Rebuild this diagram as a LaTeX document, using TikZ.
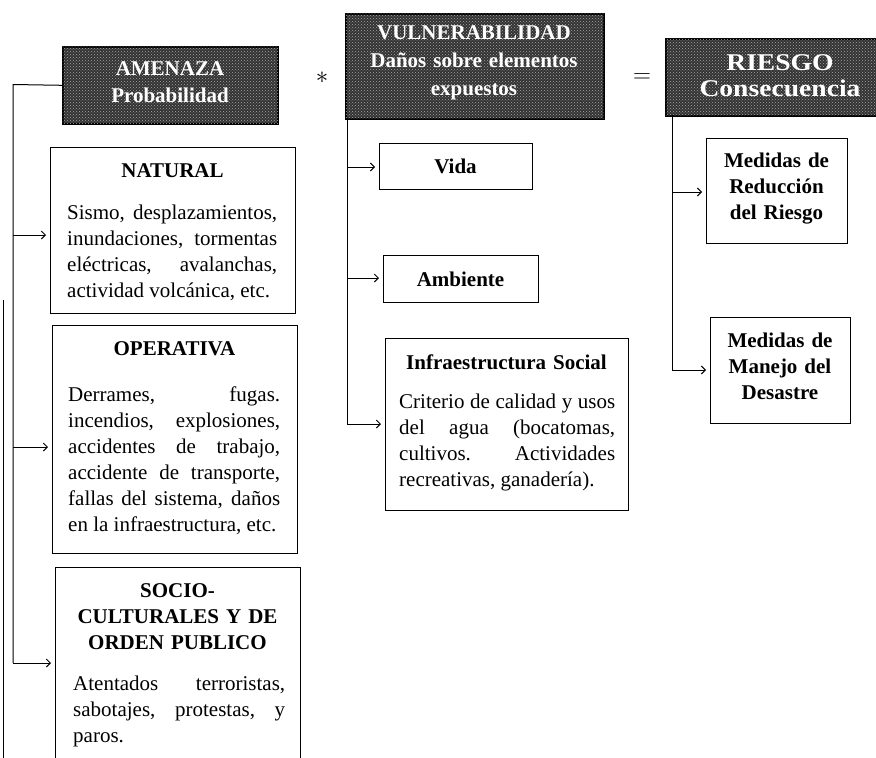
\documentclass[tikz,border=0pt]{standalone}
\usepackage{fontspec}
\setmainfont{Liberation Serif}
\newfontfamily\riesgofont{Liberation Serif}[FakeStretch=1.15]
\usetikzlibrary{arrows.meta,patterns}
\tolerance=10000
\hbadness=10000
\hyphenpenalty=10000
\exhyphenpenalty=10000
\begin{document}
\begin{tikzpicture}[x=1pt,y=-1pt,
  hdr/.style={draw=black, line width=1.6pt, fill=black!80,
    postaction={pattern=crosshatch dots, pattern color=gray!70},
    anchor=north west, inner sep=0pt},
  box/.style={draw=black, line width=1.4pt, anchor=north west, inner sep=0pt},
  htxt/.style={text=white, font=\fontsize{21}{27}\selectfont\bfseries, align=center, inner sep=0pt, anchor=base},
  ttl/.style={font=\fontsize{21}{26}\selectfont\bfseries, align=center, inner sep=0pt, anchor=base},
  body/.style={font=\fontsize{21}{26}\selectfont, align=justify, inner sep=0pt, anchor=base west},
  conn/.style={line width=1pt},
  arr/.style={line width=1pt, shorten >=4pt, -{Straight Barb[length=4pt,width=8pt]}},
]
\useasboundingbox (0,0) rectangle (876,758);

% header boxes
\node[hdr, minimum width=215, minimum height=77] (amenaza) at (62,46) {};
\node[htxt, text width=205] (amenazatxt) at (170,75) {AMENAZA\\Probabilidad};
\node[hdr, minimum width=258, minimum height=105] (vuln) at (345,13) {};
\node[htxt, text width=250, font=\fontsize{21}{28}\selectfont\bfseries] (vulntxt) at (474,39) {VULNERABILIDAD\\Daños sobre elementos\\expuestos};
\node[hdr, minimum width=235, minimum height=77] (riesgo) at (665,38) {};
\node[htxt, text width=205, font=\riesgofont\fontsize{24}{26}\selectfont\bfseries] (riesgotxt) at (780,70) {RIESGO\\Consecuencia};

% operators
\node[font=\fontsize{30}{30}\selectfont] (times) at (322,78) {$\ast$};
\node[font=\fontsize{26}{26}\selectfont] (equals) at (642,78) {$=$};

% left column
\node[box, minimum width=245, minimum height=166] (natural) at (50,147) {};
\node[ttl, text width=220] (naturalttl) at (172.5,177) {NATURAL};
\node[body, text width=210] (naturalbody) at (67,219) {Sismo, desplazamientos,\linebreak inundaciones, tormentas\linebreak eléctricas, avalanchas,\linebreak actividad volcánica, etc.};

\node[box, minimum width=245, minimum height=228] (operativa) at (52,325) {};
\node[ttl, text width=220] (operativattl) at (174.5,355) {OPERATIVA};
\node[body, text width=212] (operativabody) at (68,401) {Derrames, fugas.\linebreak incendios, explosiones,\linebreak accidentes de trabajo,\linebreak accidente de transporte,\linebreak fallas del sistema, daños\linebreak en la infraestructura, etc.};

\node[box, minimum width=245, minimum height=220] (socio) at (55,567) {};
\node[ttl, text width=230] (sociottl) at (177.5,597) {SOCIO-\\CULTURALES Y DE\\ORDEN PUBLICO};
\node[body, text width=212] (sociobody) at (73,690) {Atentados terroristas,\linebreak sabotajes, protestas, y\linebreak paros.};

% middle column
\node[box, minimum width=153, minimum height=46] (vida) at (379,143) {};
\node[ttl, text width=140] (vidatxt) at (455.5,173) {Vida};
\node[box, minimum width=155, minimum height=47] (ambiente) at (383,255) {};
\node[ttl, text width=140] (ambientetxt) at (460.5,286) {Ambiente};
\node[box, minimum width=243, minimum height=172] (infra) at (385,338) {};
\node[ttl, text width=230] (infrattl) at (506.5,369) {Infraestructura Social};
\node[body, text width=216] (infrabody) at (399,408) {Criterio de calidad y usos\linebreak del agua (bocatomas,\linebreak cultivos. Actividades\linebreak recreativas, ganadería).};

% right column
\node[box, minimum width=141, minimum height=105] (reduccion) at (706,138) {};
\node[ttl, text width=135] (reducciontxt) at (776.5,167) {Medidas de\\Reducción\\del Riesgo};
\node[box, minimum width=140, minimum height=106] (manejo) at (710,317) {};
\node[ttl, text width=135] (manejotxt) at (780,347) {Medidas de\\Manejo del\\Desastre};

% left connectors
\coordinate (lcorner) at (13,84.5);
\coordinate (lnat) at (13,235);
\coordinate (lope) at (13,447);
\coordinate (lbottom) at (13,663);
\draw[conn] (amenaza.west) -- (lcorner) -- (lbottom);
\draw[arr] (lnat) -- (natural.west |- lnat);
\draw[arr] (lope) -- (operativa.west |- lope);
\draw[arr] (lbottom) -- (socio.west |- lbottom);
\coordinate (edgetop) at (3,300);
\coordinate (edgebot) at (3,758);
\draw[line width=0.8pt] (edgetop) -- (edgebot);

% middle connectors
\coordinate (mtop) at (347,118);
\coordinate (mvida) at (347,167);
\coordinate (mamb) at (347,278);
\coordinate (mbot) at (347,424);
\draw[conn] (mtop) -- (mbot);
\draw[arr] (mvida) -- (vida.west |- mvida);
\draw[arr] (mamb) -- (ambiente.west |- mamb);
\draw[arr] (mbot) -- (infra.west |- mbot);

% right connectors
\coordinate (rtop) at (672,115);
\coordinate (rred) at (672,192);
\coordinate (rbot) at (672,370);
\draw[conn] (rtop) -- (rbot);
\draw[arr] (rred) -- (reduccion.west |- rred);
\draw[arr] (rbot) -- (manejo.west |- rbot);
\end{tikzpicture}
\end{document}
